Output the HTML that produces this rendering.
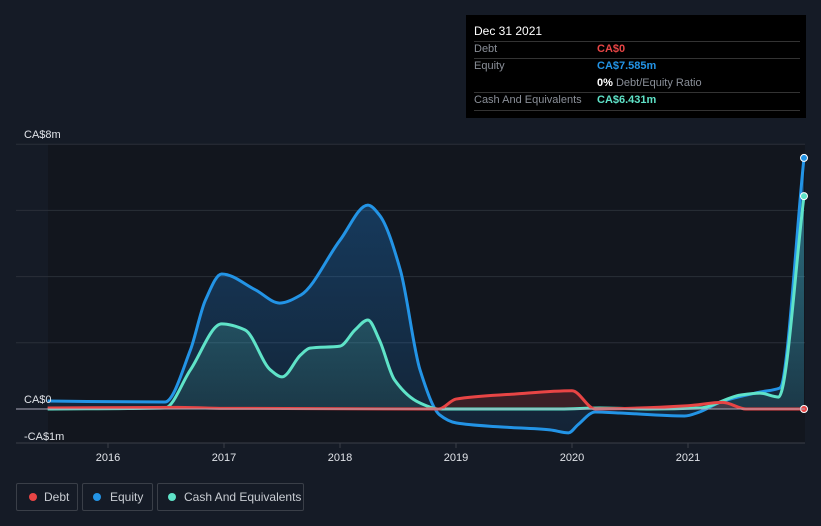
<!DOCTYPE html>
<html><head><meta charset="utf-8"><style>
body{margin:0;background:#151b26;font-family:"Liberation Sans",sans-serif;}
#wrap{position:relative;width:821px;height:526px;overflow:hidden;}
svg text{font-family:"Liberation Sans",sans-serif;}
</style></head><body>
<div id="wrap">
<svg id="chart" width="821" height="526">
<defs>
<linearGradient id="gEq" x1="0" y1="0" x2="0" y2="1"><stop offset="0" stop-color="#1e88e5" stop-opacity="0.35"/><stop offset="1" stop-color="#1e88e5" stop-opacity="0.12"/></linearGradient>
<linearGradient id="gCash" x1="0" y1="0" x2="0" y2="1"><stop offset="0" stop-color="#5fe3c8" stop-opacity="0.3"/><stop offset="1" stop-color="#5fe3c8" stop-opacity="0.1"/></linearGradient>
</defs>
<rect x="48" y="144" width="757" height="299" fill="#12161e"/>
<g id="grid"></g><g id="areas"></g><g id="lines"></g><g id="axes"></g>
</svg>
<div style="position:absolute;left:466px;top:15px;width:340px;height:103px;background:#000;color:#fff;font-size:11px;">
<div style="position:absolute;left:8px;top:9px;font-size:12px;">Dec 31 2021</div>
<div style="position:absolute;left:8px;right:6px;top:26px;border-top:1px solid #333;"></div>
<div style="position:absolute;left:8px;top:28px;color:#8a8f98;">Debt</div><div style="position:absolute;left:131px;top:28px;color:#e84545;font-weight:bold;">CA$0</div>
<div style="position:absolute;left:8px;right:6px;top:43px;border-top:1px solid #333;"></div>
<div style="position:absolute;left:8px;top:45px;color:#8a8f98;">Equity</div><div style="position:absolute;left:131px;top:45px;color:#2394e6;font-weight:bold;">CA$7.585m</div>
<div style="position:absolute;left:131px;top:62px;color:#8a8f98;"><b style="color:#fff">0%</b> Debt/Equity Ratio</div>
<div style="position:absolute;left:8px;right:6px;top:77px;border-top:1px solid #333;"></div>
<div style="position:absolute;left:8px;top:79px;color:#8a8f98;">Cash And Equivalents</div><div style="position:absolute;left:131px;top:79px;color:#5fe3c8;font-weight:bold;">CA$6.431m</div>
<div style="position:absolute;left:8px;right:6px;top:95px;border-top:1px solid #333;"></div>
</div>
<div style="position:absolute;top:483px;left:16px;font-size:12px;color:#c8ccd2;">
<div style="position:absolute;left:0;width:60px;height:26px;border:1px solid #3a3f48;border-radius:2px;"><span style="position:absolute;left:12px;top:9px;width:8px;height:8px;border-radius:50%;background:#e84545"></span><span style="position:absolute;left:27px;top:6px">Debt</span></div>
<div style="position:absolute;left:66px;width:69px;height:26px;border:1px solid #3a3f48;border-radius:2px;"><span style="position:absolute;left:10px;top:9px;width:8px;height:8px;border-radius:50%;background:#2394e6"></span><span style="position:absolute;left:27px;top:6px">Equity</span></div>
<div style="position:absolute;left:141px;width:145px;height:26px;border:1px solid #3a3f48;border-radius:2px;"><span style="position:absolute;left:10px;top:9px;width:8px;height:8px;border-radius:50%;background:#5fe3c8"></span><span style="position:absolute;left:26px;top:6px">Cash And Equivalents</span></div>
</div>
</div>
<script>
const yearTicks=[2016,2017,2018,2019,2020,2021];
const yTickVals=[8,0,-1];
const yTickLabels=["CA$8m","CA$0","-CA$1m"];
const gridVals=[8,6,4,2];
const equityX=[2015.48,2016.49,2016.71,2016.84,2016.98,2017.27,2017.48,2017.66,2018.0,2018.24,2018.34,2018.52,2018.69,2018.86,2019.0,2019.38,2019.81,2019.97,2020.05,2020.2,2020.41,2020.97,2021.1,2021.28,2021.62,2021.79,2022.0];
const equityY=[0.24,0.21,1.78,3.29,4.08,3.6,3.2,3.44,5.1,6.16,5.86,4.2,1.18,-0.18,-0.42,-0.54,-0.63,-0.72,-0.48,-0.09,-0.12,-0.21,-0.09,0.21,0.51,0.63,7.585];
const cashX=[2015.48,2016.49,2016.71,2016.98,2017.18,2017.4,2017.5,2017.66,2017.74,2018.0,2018.13,2018.24,2018.34,2018.47,2018.69,2018.86,2019.9,2020.24,2020.67,2021.1,2021.45,2021.62,2021.78,2022.0];
const cashY=[0,0.03,1.18,2.57,2.39,1.18,0.97,1.63,1.84,1.9,2.39,2.69,2.08,0.88,0.18,0,0,0.03,0,0.03,0.42,0.48,0.36,6.431];
const debtX=[2015.48,2016.6,2017.0,2018.85,2019.0,2019.5,2020.0,2020.2,2021.0,2021.3,2021.5,2022.0];
const debtY=[0.03,0.05,0.02,0,0.3,0.45,0.55,0,0.1,0.2,0,0];
const NS="http://www.w3.org/2000/svg";
const xS=y=>108+(y-2016)*116;
const yS=v=>409-v*33.1;
function el(t,a,p){const e=document.createElementNS(NS,t);for(const k in a)e.setAttribute(k,a[k]);document.getElementById(p).appendChild(e);return e;}
function path(xs,ys){const X=xs.map(xS),Y=ys.map(yS),n=X.length;
const d=[],m=[];for(let i=0;i<n-1;i++)d.push((Y[i+1]-Y[i])/(X[i+1]-X[i]));
m[0]=d[0];m[n-1]=d[n-2];
for(let i=1;i<n-1;i++){if(d[i-1]*d[i]<=0)m[i]=0;else{const h0=X[i]-X[i-1],h1=X[i+1]-X[i];const w1=2*h1+h0,w2=h1+2*h0;m[i]=(w1+w2)/(w1/d[i-1]+w2/d[i]);}}
let s="M"+X[0]+","+Y[0];
for(let i=0;i<n-1;i++){const h=(X[i+1]-X[i])/3;s+=` C${X[i]+h},${Y[i]+m[i]*h} ${X[i+1]-h},${Y[i+1]-m[i+1]*h} ${X[i+1]},${Y[i+1]}`;}return s;}
gridVals.forEach(v=>{const g=el("line",{x1:16,x2:805,y1:yS(v),y2:yS(v),stroke:"#2a2f38","stroke-width":1},"grid");

});
const series=[[equityX,equityY,"#2394e6","url(#gEq)","equity"],[cashX,cashY,"#5fe3c8","url(#gCash)","cash"],[debtX,debtY,"#e84545","rgba(232,69,69,0.2)","debt"]];
series.forEach(([xs,ys,c,f,n])=>{const d=path(xs,ys);
const a=el("path",{d:d+` L${xS(xs[xs.length-1])},${yS(0)} L${xS(xs[0])},${yS(0)} Z`,fill:f},"areas");


const l=el("path",{d:d,fill:"none",stroke:c,"stroke-width":3},"lines");


const dot=el("circle",{cx:xS(xs[xs.length-1]),cy:yS(ys[ys.length-1]),r:3.5,fill:c,stroke:"#fff","stroke-width":1},"lines");

});
const z=el("line",{x1:16,x2:805,y1:yS(0),y2:yS(0),stroke:"#aab","stroke-width":1},"axes");


const xa=el("line",{x1:16,x2:805,y1:443,y2:443,stroke:"#3a3f48","stroke-width":1},"axes");


yearTicks.forEach(y=>{const tk=el("line",{x1:xS(y),x2:xS(y),y1:443,y2:448,stroke:"#3a3f48"},"axes");


const t=el("text",{x:xS(y),y:461,fill:"#e0e3e8","font-size":11,"text-anchor":"middle"},"axes");t.textContent=y;

});
yTickVals.forEach((v,i)=>{const t=el("text",{x:24,y:yS(v)-6+(v<0?4:0),fill:"#e0e3e8","font-size":11},"axes");t.textContent=yTickLabels[i];

});
</script>
</body></html>
